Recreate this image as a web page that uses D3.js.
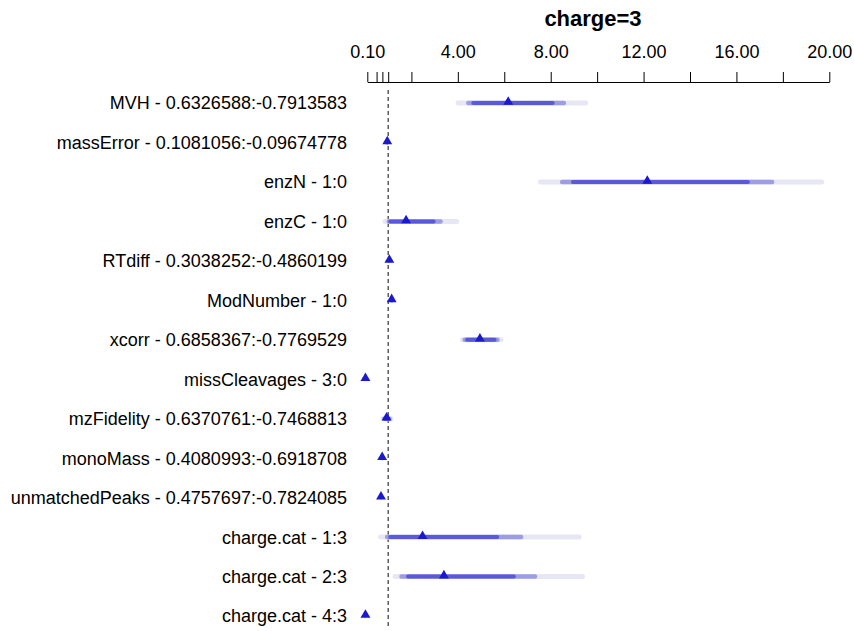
<!DOCTYPE html>
<html>
<head>
<meta charset="utf-8">
<script src="https://cdn.jsdelivr.net/npm/d3@7"></script>
<style>
  body { margin: 0; background: #fff; }
  svg { font-family: "Liberation Sans", Arial, sans-serif; }
</style>
</head>
<body>
<div class="chart"></div>
<script>
// row labels, top to bottom
var labels = ["MVH - 0.6326588:-0.7913583", "massError - 0.1081056:-0.09674778", "enzN - 1:0", "enzC - 1:0",
  "RTdiff - 0.3038252:-0.4860199", "ModNumber - 1:0", "xcorr - 0.6858367:-0.7769529", "missCleavages - 3:0",
  "mzFidelity - 0.6370761:-0.7468813", "monoMass - 0.4080993:-0.6918708", "unmatchedPeaks - 0.4757697:-0.7824085",
  "charge.cat - 1:3", "charge.cat - 2:3", "charge.cat - 4:3"];

// odds ratio estimates
var est = [6.17, 0.96, 12.16, 1.77, 1.05, 1.15, 4.95, 0.02, 0.93, 0.74, 0.69, 2.48, 3.40, 0.02];

// confidence limits: 0.99, 0.95, 0.9
var lo99 = [3.91, 0.90, 7.46, 0.76, 1.00, 1.05, 4.09, 0.01, 0.68, 0.70, 0.66, 0.57, 1.19, 0.01];
var hi99 = [9.61, 1.02, 19.77, 4.06, 1.10, 1.26, 5.96, 0.03, 1.22, 0.79, 0.73, 9.33, 9.47, 0.03];
var lo95 = [4.36, 0.91, 8.40, 0.93, 1.01, 1.07, 4.20, 0.01, 0.74, 0.71, 0.67, 0.86, 1.48, 0.01];
var hi95 = [8.66, 1.01, 17.63, 3.35, 1.09, 1.23, 5.80, 0.03, 1.15, 0.78, 0.72, 6.82, 7.42, 0.03];
var lo90 = [4.58, 0.92, 8.87, 1.00, 1.02, 1.09, 4.31, 0.01, 0.78, 0.72, 0.68, 1.00, 1.77, 0.01];
var hi90 = [8.17, 1.00, 16.58, 3.04, 1.08, 1.21, 5.67, 0.03, 1.10, 0.77, 0.71, 5.78, 6.50, 0.03];

var tickVals = [0.1, 0.5, 0.75, 1, 2, 4, 6, 8, 10, 12, 14, 16, 18, 20];
var tickLabels = {0.1: "0.10", 4: "4.00", 8: "8.00", 12: "12.00", 16: "16.00", 20: "20.00"};

var width = 854, height = 631;

var svg = d3.select(".chart")
  .append("svg")
    .attr("width", width)
    .attr("height", height);

var x = d3.scaleLinear()
  .domain([0.1, 20])
  .range([367.3, 829.3]);

var y = d3.scalePoint()
  .domain(labels)
  .range([103, 616]);

// title
svg.append("text")
  .attr("x", 593)
  .attr("y", 26)
  .attr("text-anchor", "middle")
  .attr("font-size", "22px")
  .attr("font-weight", "bold")
  .text("charge=3");

// top axis
var axis = svg.append("g")
  .attr("transform", "translate(0,82)")
  .call(d3.axisTop(x)
    .tickValues(tickVals)
    .tickFormat(function (d) { return tickLabels[d] || ""; })
    .tickSize(10)
    .tickSizeOuter(0)
    .tickPadding(14));
axis.selectAll("text")
  .attr("font-size", "18px")
  .attr("font-family", "Liberation Sans, Arial, sans-serif")
  .attr("fill", "#000");
axis.selectAll("line, path").attr("stroke", "#000");

// reference line at 1
svg.append("line")
  .attr("x1", x(1)).attr("x2", x(1))
  .attr("y1", 90).attr("y2", 626)
  .attr("stroke", "#444")
  .attr("stroke-width", 1.3)
  .attr("stroke-dasharray", "4,3");

// row labels
svg.append("g")
  .selectAll("text")
  .data(labels)
  .enter()
  .append("text")
    .attr("x", 347)
    .attr("y", function (d) { return y(d); })
    .attr("dy", "0.36em")
    .attr("text-anchor", "end")
    .attr("font-size", "18px")
    .attr("fill", "#000")
    .text(function (d) { return d; });

var rows = labels.map(function (l, i) { return {label: l, i: i}; });

var bands = [
  {lo: lo99, hi: hi99, col: "#e6e6f5", w: 5},
  {lo: lo95, hi: hi95, col: "#9d9de6", w: 4.5},
  {lo: lo90, hi: hi90, col: "#5a5ad9", w: 4}
];

bands.forEach(function (b) {
  svg.append("g")
    .selectAll("rect")
    .data(rows)
    .enter()
    .append("rect")
      .attr("x", function (d) { return x(b.lo[d.i]); })
      .attr("width", function (d) { return x(b.hi[d.i]) - x(b.lo[d.i]); })
      .attr("y", function (d) { return y(d.label) - b.w / 2; })
      .attr("height", b.w)
      .attr("rx", 2)
      .attr("fill", b.col);
});

// point estimates
svg.append("g")
  .selectAll("path")
  .data(rows)
  .enter()
  .append("path")
    .attr("d", d3.symbol().type(d3.symbolTriangle).size(42))
    .attr("transform", function (d) { return "translate(" + x(est[d.i]) + "," + (y(d.label) - 1) + ")"; })
    .attr("fill", "#1a1acc");
</script>
</body>
</html>
